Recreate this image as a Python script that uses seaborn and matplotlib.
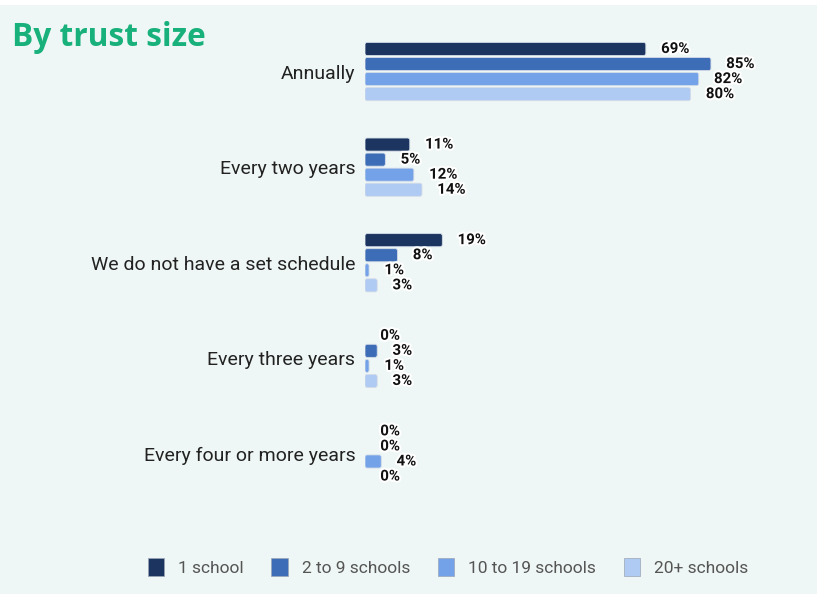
import matplotlib
matplotlib.use("Agg")
import matplotlib.pyplot as plt
import matplotlib.patheffects as pe
from matplotlib.patches import FancyBboxPatch, Patch, Rectangle
import seaborn as sns
import pandas as pd

# Review frequency by trust size (% of respondents)
categories = ["Annually", "Every two years", "We do not have a set schedule",
              "Every three years", "Every four or more years"]
groups = ["1 school", "2 to 9 schools", "10 to 19 schools", "20+ schools"]
one_school = [69, 11, 19, 0, 0]
two_to_nine = [85, 5, 8, 3, 0]
ten_to_nineteen = [82, 12, 1, 1, 4]
twenty_plus = [80, 14, 3, 3, 0]
colors = ["#1B3560", "#3D6DB7", "#74A2E8", "#AFCAF3"]

series = [one_school, two_to_nine, ten_to_nineteen, twenty_plus]
df = pd.DataFrame(
    [(c, g, v) for g, vals in zip(groups, series) for c, v in zip(categories, vals)],
    columns=["category", "group", "value"],
)

sns.set_theme(style="white")
plt.rcParams["font.family"] = ["Roboto", "DejaVu Sans"]

bg = "#EEF7F5"
fig = plt.figure(figsize=(8.17, 5.94), dpi=100, facecolor=bg)
ax = fig.add_axes([365 / 817, 1 - 501.75 / 594, (772 - 365) / 817, (501.75 - 23.75) / 594])
ax.set_facecolor("none")

sns.barplot(data=df, y="category", x="value", hue="group", order=categories,
            hue_order=groups, palette=colors, orient="h", width=0.63, gap=0.13,
            ax=ax, legend=False, saturation=1)

ax.set_xlim(0, 100)
ax.set_ylim(4.5, -0.5)

# Rounded bar corners: scale the rounding so it looks equal in x and y
fig.canvas.draw()
bb = ax.get_window_extent()
x_per_px = 100 / bb.width
y_per_px = 5 / bb.height
aspect = y_per_px / x_per_px
radius = 2.2 * x_per_px

for container, col in zip(ax.containers, colors):
    vals = container.datavalues
    for bar in container.patches:
        x0, y0 = bar.get_x(), bar.get_y()
        w, h = bar.get_width(), bar.get_height()
        bar.set_visible(False)
        if w <= 0:
            continue
        r = min(radius, w / 2)
        fb = FancyBboxPatch((x0, y0), w, h,
                            boxstyle=f"round,pad=0,rounding_size={r}",
                            mutation_aspect=aspect, facecolor=col,
                            edgecolor="#D5DDE8", linewidth=0.6, zorder=3)
        ax.add_patch(fb)
    ax.bar_label(container, labels=[f"{int(v)}%" for v in vals], padding=11,
                 fontsize=10.8, fontweight="bold", color="#111111",
                 path_effects=[pe.withStroke(linewidth=3, foreground="white")],
                 zorder=5)

ax.set_xlabel("")
ax.set_ylabel("")
ax.set_xticks([])
ax.tick_params(axis="y", length=0, pad=7, labelsize=14, labelcolor="#222222")
for s in ax.spines.values():
    s.set_visible(False)

# White strip along the top edge
fig.patches.append(Rectangle((0, 1 - 5 / 594), 1, 5 / 594, transform=fig.transFigure,
                             facecolor="white", edgecolor="none", zorder=0))

fig.text(12 / 817, 1 - 37 / 594, "By trust size", fontsize=22.8, fontweight="bold",
         color="#18B07B", family=["Open Sans", "DejaVu Sans"], va="center", ha="left")

handles = [Patch(facecolor=c, edgecolor="#9AA5B5", linewidth=0.5) for c in colors]
fig.legend(handles, groups, loc="center", bbox_to_anchor=(448 / 817, 1 - 567 / 594),
           ncol=4, frameon=False, fontsize=12.5, labelcolor="#555555",
           handlelength=0.95, handleheight=1.3, handletextpad=0.8, columnspacing=1.6)

fig.savefig("out.png", dpi=100, facecolor=bg)
